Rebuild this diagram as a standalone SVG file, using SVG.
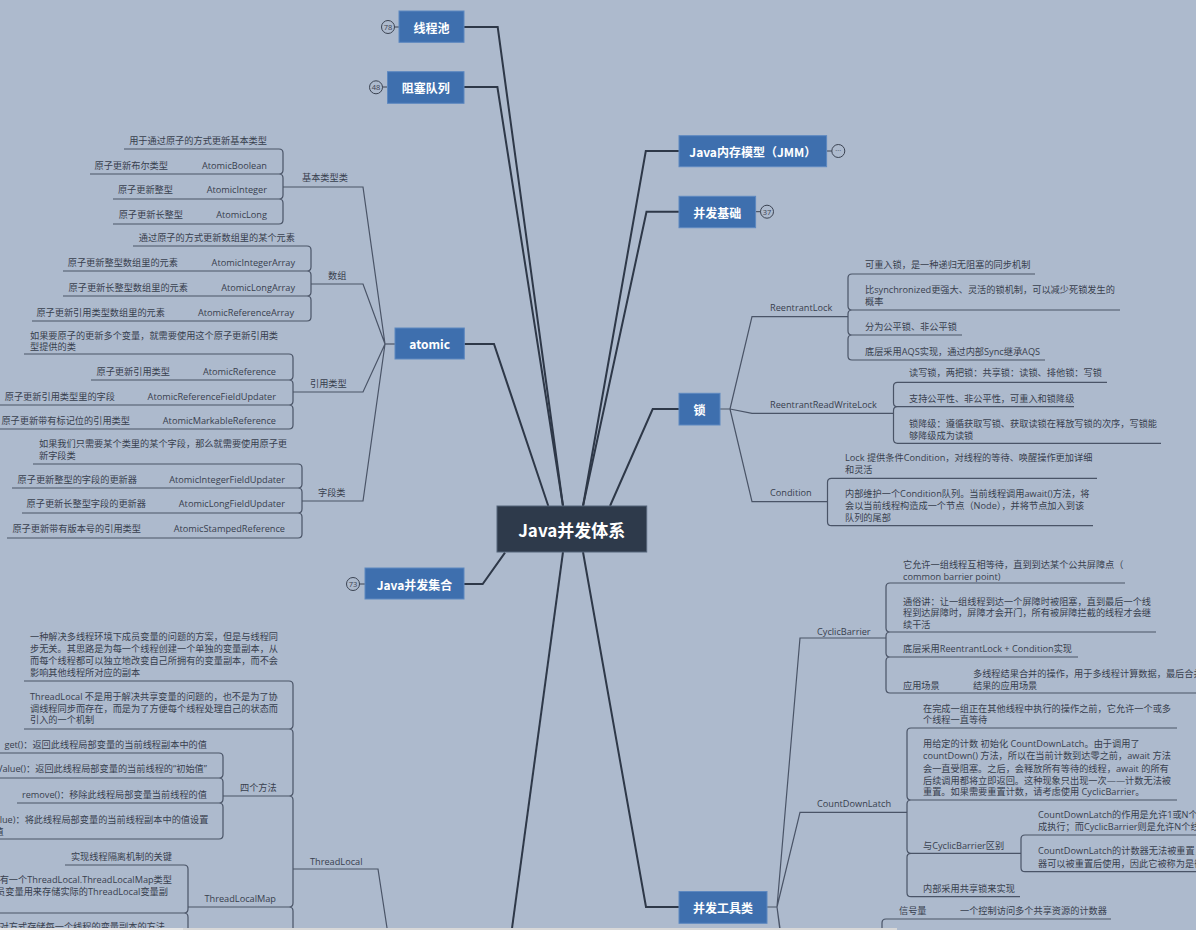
<svg xmlns="http://www.w3.org/2000/svg" width="1196" height="930" viewBox="0 0 1196 930">
<style>
.t{font-family:"Open Sans","Noto Sans CJK SC",sans-serif;font-size:9.2px;fill:#38404e;dominant-baseline:central}
.e{text-anchor:end}
.h{font-family:"Noto Sans CJK SC","Open Sans",sans-serif;font-weight:700;font-size:12px;fill:#fff;text-anchor:middle;dominant-baseline:central}
.m{font-size:17px}
.box{fill:#3e6fae;stroke:#5d88c0;stroke-width:1}
.main{fill:#2e3a4b;stroke:#55647a;stroke-width:1}
.br{fill:none;stroke:#2e3848;stroke-width:2}
.ln{fill:none;stroke:#4a5467;stroke-width:1.2}
.cc{fill:none;stroke:#3b4352;stroke-width:1}
.ct{font-family:"Open Sans",sans-serif;font-size:7.5px;fill:#3b4352;text-anchor:middle;dominant-baseline:central}
</style>
<rect x="0" y="0" width="1196" height="930" fill="#adbacd"/>

<g id="connectors">
  <path class="br" d="M464,27 H497.7 L563,506"/>
  <path class="br" d="M464,87 H497.4 L563,506"/>
  <path class="br" d="M464,344 H494 L548.3,506"/>
  <path class="br" d="M464,584 H482.7 L505,552.7"/>
  <path class="br" d="M679,151 H645.8 L583,506"/>
  <path class="br" d="M679,211.7 H646.5 L583,506"/>
  <path class="br" d="M679,409 H652.7 L610,506"/>
  <path class="br" d="M679,907 H646 L583,552"/>
  <path class="br" d="M563,552 L505,980"/>
  <path class="cc" d="M394.5,27 H399 M382.5,87 H387.5 M359.5,584 H365 M755.6,211.7 H760.5 M826.6,151 H831.8"/>

  <!-- atomic -->
  <path class="ln" d="M385,344 H395"/>
  <path class="ln" d="M283,187 H363 L385,344 M311,284 H363 L385,344 M293,392 H363 L385,344 M302,501 H363 L385,344"/>
  <path class="ln" d="M279,149 H124 M279,149 Q283,149 283,153 V170 Q283,174 279,174 H90 M279,174 Q283,174 283,178 V195 Q283,199 279,199 H113 M279,199 Q283,199 283,203 V220 Q283,224 279,224 H113"/>
  <path class="ln" d="M307,246 H133 M307,246 Q311,246 311,250 V267 Q311,271 307,271 H63 M307,271 Q311,271 311,275 V292 Q311,296 307,296 H63 M307,296 Q311,296 311,300 V317 Q311,321 307,321 H32"/>
  <path class="ln" d="M289,354 H24 M289,354 Q293,354 293,358 V376 Q293,380 289,380 H91 M289,380 Q293,380 293,384 V401 Q293,405 289,405 H0 M289,405 Q293,405 293,409 V425 Q293,429 289,429 H0"/>
  <path class="ln" d="M298,464 H33 M298,464 Q302,464 302,468 V484 Q302,488 298,488 H12 M298,488 Q302,488 302,492 V509 Q302,513 298,513 H22 M298,513 Q302,513 302,517 V534 Q302,538 298,538 H7"/>

  <!-- ThreadLocal -->
  <path class="ln" d="M293,869 H378 L396.5,990"/>
  <path class="ln" d="M289,681 H24 M289,681 Q293,681 293,685 V725 Q293,729 289,729 H24 M289,729 Q293,729 293,733 V792 Q293,796 289,796 H223 M289,796 Q293,796 293,800 V903 Q293,907 289,907 H188 M289,907 Q293,907 293,911 V1000"/>
  <path class="ln" d="M219,753 H0 M219,753 Q223,753 223,757 V774 Q223,778 219,778 H0 M219,778 Q223,778 223,782 V799 Q223,803 219,803 H17 M219,803 Q223,803 223,807 V835 Q223,839 219,839 H0"/>
  <path class="ln" d="M184,865 H65 M184,865 Q188,865 188,869 V909 Q188,913 184,913 H0 M184,913 Q188,913 188,917 V1000"/>

  <!-- lock -->
  <path class="ln" d="M720,409 H730 M730,409 L752,316.7 H848 M730,409 L752,413.3 H893.5 M730,409 L752,501.7 H827.5"/>
  <path class="ln" d="M852,274 H1035 M852,274 Q848,274 848,278 V306 Q848,310 852,310 H1120 M852,310 Q848,310 848,314 V331 Q848,335 852,335 H962 M852,335 Q848,335 848,339 V356 Q848,360 852,360 H1045"/>
  <path class="ln" d="M897.5,382.3 H1107 M897.5,382.3 Q893.5,382.3 893.5,386.3 V402.7 Q893.5,406.7 897.5,406.7 H1074 M897.5,406.7 Q893.5,406.7 893.5,410.7 V439.3 Q893.5,443.3 897.5,443.3 H1161"/>
  <path class="ln" d="M831.5,478.3 H1097 M831.5,478.3 Q827.5,478.3 827.5,482.3 V521.7 Q827.5,525.7 831.5,525.7 H1093"/>

  <!-- tools -->
  <path class="ln" d="M767,907 H777 M777,907 L800,638 H886 M777,907 L800,812.3 H907 M777,907 L800,1070 M777,907 L790,1010"/>
  <path class="ln" d="M890,583 H1125 M890,583 Q886,583 886,587 V628 Q886,632 890,632 H1156 M890,632 Q886,632 886,636 V653 Q886,657 890,657 H1078 M890,657 Q886,657 886,661 V689 Q886,693 890,693 H1196"/>
  <path class="ln" d="M911,728 H1177 M911,728 Q907,728 907,732 V796 Q907,800 911,800 H1177 M911,800 Q907,800 907,804 V849.3 Q907,853.3 911,853.3 H1021 M911,853.3 Q907,853.3 907,857.3 V892.7 Q907,896.7 911,896.7 H1020"/>
  <path class="ln" d="M1025,835 H1196 M1025,835 Q1021,835 1021,839 V867.7 Q1021,871.7 1025,871.7 H1196"/>
  <path class="ln" d="M886,919 H1111 M886,919 Q882,919 882,923 V940"/>
</g>

<g id="root">
  <rect class="main" x="497" y="506" width="149.7" height="46"/>
  <text class="h m" x="571.8" y="529">Java并发体系</text>
</g>

<g id="n-threadpool">
  <rect class="box" x="399" y="11" width="65" height="31.3"/>
  <text class="h" x="431.5" y="27">线程池</text>
  <circle class="cc" cx="388" cy="27" r="6.5"/><text class="ct" x="388" y="27">78</text>
</g>
<g id="n-blockingqueue">
  <rect class="box" x="387.5" y="71.7" width="76.5" height="31.6"/>
  <text class="h" x="425.7" y="87.5">阻塞队列</text>
  <circle class="cc" cx="376" cy="87.3" r="6.5"/><text class="ct" x="376" y="87.3">48</text>
</g>
<g id="n-jmm">
  <rect class="box" x="679" y="135.7" width="147.6" height="31"/>
  <text class="h" x="752.8" y="151.2">Java内存模型（JMM）</text>
  <circle class="cc" cx="838.3" cy="151" r="6.5"/><text class="ct" x="838.3" y="150">···</text>
</g>
<g id="n-basics">
  <rect class="box" x="679" y="196.3" width="76.6" height="31.4"/>
  <text class="h" x="717.3" y="212">并发基础</text>
  <circle class="cc" cx="767" cy="211.7" r="6.5"/><text class="ct" x="767" y="211.7">37</text>
</g>
<g id="n-atomic">
  <rect class="box" x="395" y="328" width="69.3" height="31"/>
  <text class="h" x="429.7" y="343.5">atomic</text>
</g>
<g id="n-lock">
  <rect class="box" x="679" y="393.3" width="41" height="31.7"/>
  <text class="h" x="699.5" y="409">锁</text>
</g>
<g id="n-collections">
  <rect class="box" x="365" y="568" width="99" height="31"/>
  <text class="h" x="414.5" y="584">Java并发集合</text>
  <circle class="cc" cx="353" cy="584" r="6.5"/><text class="ct" x="353" y="584">73</text>
</g>
<g id="n-tools">
  <rect class="box" x="679" y="891.5" width="88" height="31.8"/>
  <text class="h" x="723" y="907.3">并发工具类</text>
</g>

<g id="n-basic-types">
  <text class="t" x="302" y="177">基本类型类</text>
  <text class="t e" x="267" y="140">用于通过原子的方式更新基本类型</text>
  <text class="t e" x="267" y="165">AtomicBoolean</text><text class="t e" x="168" y="165">原子更新布尔类型</text>
  <text class="t e" x="267" y="189.5">AtomicInteger</text><text class="t e" x="173" y="189.5">原子更新整型</text>
  <text class="t e" x="267" y="214">AtomicLong</text><text class="t e" x="183" y="214">原子更新长整型</text>
</g>
<g id="n-array">
  <text class="t" x="328" y="275">数组</text>
  <text class="t e" x="295" y="237">通过原子的方式更新数组里的某个元素</text>
  <text class="t e" x="295" y="262">AtomicIntegerArray</text><text class="t e" x="178" y="262">原子更新整型数组里的元素</text>
  <text class="t e" x="295" y="287">AtomicLongArray</text><text class="t e" x="188" y="287">原子更新长整型数组里的元素</text>
  <text class="t e" x="294" y="312">AtomicReferenceArray</text><text class="t e" x="165" y="312">原子更新引用类型数组里的元素</text>
</g>
<g id="n-ref">
  <text class="t" x="310" y="383">引用类型</text>
  <text class="t" x="30" y="335">如果要原子的更新多个变量，就需要使用这个原子更新引用类</text>
  <text class="t" x="30" y="346.5">型提供的类</text>
  <text class="t e" x="276" y="371">AtomicReference</text><text class="t e" x="170" y="371">原子更新引用类型</text>
  <text class="t e" x="276" y="396">AtomicReferenceFieldUpdater</text><text class="t e" x="115" y="396">原子更新引用类型里的字段</text>
  <text class="t e" x="276" y="420.5">AtomicMarkableReference</text><text class="t e" x="130" y="420.5">原子更新带有标记位的引用类型</text>
</g>
<g id="n-field">
  <text class="t" x="318" y="492">字段类</text>
  <text class="t" x="39" y="443">如果我们只需要某个类里的某个字段，那么就需要使用原子更</text>
  <text class="t" x="39" y="455">新字段类</text>
  <text class="t e" x="285" y="479">AtomicIntegerFieldUpdater</text><text class="t e" x="137" y="479">原子更新整型的字段的更新器</text>
  <text class="t e" x="285" y="503.5">AtomicLongFieldUpdater</text><text class="t e" x="146" y="503.5">原子更新长整型字段的更新器</text>
  <text class="t e" x="285" y="528.5">AtomicStampedReference</text><text class="t e" x="141" y="528.5">原子更新带有版本号的引用类型</text>
</g>

<g id="n-threadlocal">
  <text class="t" x="310" y="861">ThreadLocal</text>
  <text class="t" x="30" y="636">一种解决多线程环境下成员变量的问题的方案，但是与线程同</text>
  <text class="t" x="30" y="648.2">步无关。其思路是为每一个线程创建一个单独的变量副本，从</text>
  <text class="t" x="30" y="660.4">而每个线程都可以独立地改变自己所拥有的变量副本，而不会</text>
  <text class="t" x="30" y="672.6">影响其他线程所对应的副本</text>
  <text class="t" x="30" y="696">ThreadLocal 不是用于解决共享变量的问题的，也不是为了协</text>
  <text class="t" x="30" y="708">调线程同步而存在，而是为了方便每个线程处理自己的状态而</text>
  <text class="t" x="30" y="719.5">引入的一个机制</text>
</g>
<g id="n-four-methods">
  <text class="t" x="240" y="787">四个方法</text>
  <text class="t e" x="207" y="744">get()：返回此线程局部变量的当前线程副本中的值</text>
  <text class="t e" x="207" y="768.5">initialValue()：返回此线程局部变量的当前线程的“初始值”</text>
  <text class="t e" x="207" y="794">remove()：移除此线程局部变量当前线程的值</text>
  <text class="t" x="-33" y="819">set(T value)：将此线程局部变量的当前线程副本中的值设置</text>
  <text class="t" x="-33" y="831">为指定值</text>
</g>
<g id="n-threadlocalmap">
  <text class="t e" x="276" y="898">ThreadLocalMap</text>
  <text class="t e" x="172" y="856">实现线程隔离机制的关键</text>
  <text class="t e" x="172" y="879">都有一个ThreadLocal.ThreadLocalMap类型</text>
  <text class="t e" x="168" y="891.5">成员变量用来存储实际的ThreadLocal变量副</text>
  <text class="t e" x="165" y="926">用键值对方式存储每一个线程的变量副本的方法</text>
</g>

<g id="n-reentrantlock">
  <text class="t" x="770" y="307.7">ReentrantLock</text>
  <text class="t" x="865" y="264.3">可重入锁，是一种递归无阻塞的同步机制</text>
  <text class="t" x="865" y="289.3">比synchronized更强大、灵活的锁机制，可以减少死锁发生的</text>
  <text class="t" x="865" y="301">概率</text>
  <text class="t" x="865" y="326">分为公平锁、非公平锁</text>
  <text class="t" x="865" y="351">底层采用AQS实现，通过内部Sync继承AQS</text>
</g>
<g id="n-rrwl">
  <text class="t" x="770" y="404">ReentrantReadWriteLock</text>
  <text class="t" x="909" y="372.7">读写锁，两把锁：共享锁：读锁、排他锁：写锁</text>
  <text class="t" x="909" y="398.3">支持公平性、非公平性，可重入和锁降级</text>
  <text class="t" x="909" y="423.3">锁降级：遵循获取写锁、获取读锁在释放写锁的次序，写锁能</text>
  <text class="t" x="909" y="435.3">够降级成为读锁</text>
</g>
<g id="n-condition">
  <text class="t" x="770" y="492.7">Condition</text>
  <text class="t" x="845" y="457.3">Lock 提供条件Condition，对线程的等待、唤醒操作更加详细</text>
  <text class="t" x="845" y="469.3">和灵活</text>
  <text class="t" x="845" y="493.3">内部维护一个Condition队列。当前线程调用await()方法，将</text>
  <text class="t" x="845" y="505.3">会以当前线程构造成一个节点（Node），并将节点加入到该</text>
  <text class="t" x="845" y="517">队列的尾部</text>
</g>

<g id="n-cyclicbarrier">
  <text class="t" x="817" y="631">CyclicBarrier</text>
  <text class="t" x="903" y="564">它允许一组线程互相等待，直到到达某个公共屏障点（</text>
  <text class="t" x="903" y="576">common barrier point)</text>
  <text class="t" x="903" y="601">通俗讲：让一组线程到达一个屏障时被阻塞，直到最后一个线</text>
  <text class="t" x="903" y="612.5">程到达屏障时，屏障才会开门，所有被屏障拦截的线程才会继</text>
  <text class="t" x="903" y="624">续干活</text>
  <text class="t" x="903" y="648">底层采用ReentrantLock + Condition实现</text>
  <text class="t" x="903" y="685">应用场景</text>
  <text class="t" x="973" y="673">多线程结果合并的操作，用于多线程计算数据，最后合并计算</text>
  <text class="t" x="973" y="685">结果的应用场景</text>
</g>
<g id="n-countdownlatch">
  <text class="t" x="817" y="803">CountDownLatch</text>
  <text class="t" x="923" y="708">在完成一组正在其他线程中执行的操作之前，它允许一个或多</text>
  <text class="t" x="923" y="719">个线程一直等待</text>
  <text class="t" x="923" y="743">用给定的计数 初始化 CountDownLatch。由于调用了</text>
  <text class="t" x="923" y="755.5">countDown() 方法，所以在当前计数到达零之前，await 方法</text>
  <text class="t" x="923" y="768">会一直受阻塞。之后，会释放所有等待的线程，await 的所有</text>
  <text class="t" x="923" y="780">后续调用都将立即返回。这种现象只出现一次——计数无法被</text>
  <text class="t" x="923" y="791.5">重置。如果需要重置计数，请考虑使用 CyclicBarrier。</text>
  <text class="t" x="923" y="845">与CyclicBarrier区别</text>
  <text class="t" x="1038" y="814">CountDownLatch的作用是允许1或N个线程等待其他线程完</text>
  <text class="t" x="1038" y="826">成执行；而CyclicBarrier则是允许N个线程相互等待</text>
  <text class="t" x="1038" y="850.7">CountDownLatch的计数器无法被重置，CyclicBarrier的计数</text>
  <text class="t" x="1038" y="863.3">器可以被重置后使用，因此它被称为是循环的barrier</text>
  <text class="t" x="923" y="888.3">内部采用共享锁来实现</text>
</g>
<g id="n-semaphore">
  <text class="t" x="899" y="910">信号量</text>
  <text class="t" x="960" y="910">一个控制访问多个共享资源的计数器</text>
</g>

<rect x="0" y="928" width="183" height="2" fill="#e6e6e6"/>
<rect x="183" y="928" width="714" height="2" fill="#d8d8d8"/>
</svg>
